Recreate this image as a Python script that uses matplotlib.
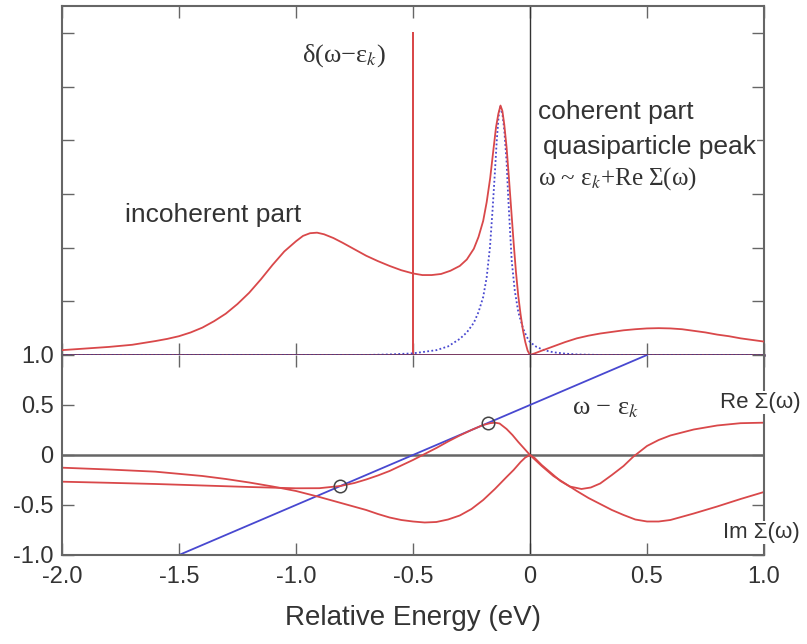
import matplotlib
matplotlib.use("Agg")
import matplotlib.pyplot as plt

plt.rcParams['font.family'] = ['Liberation Sans', 'DejaVu Sans']
plt.rcParams['mathtext.fontset'] = 'stix'

# spectral function A(k, w) (red) and bare quasiparticle peak (blue dotted)
spec_x = [-2.0, -1.9, -1.8, -1.7, -1.6, -1.55, -1.5, -1.45, -1.4, -1.35, -1.3, -1.25, -1.2,
          -1.15, -1.1, -1.05, -1.0, -0.97, -0.94, -0.91, -0.88, -0.84, -0.8, -0.75, -0.7,
          -0.65, -0.6, -0.55, -0.5, -0.46, -0.42, -0.38, -0.34, -0.3, -0.27, -0.24, -0.22,
          -0.2, -0.185, -0.17, -0.157, -0.145, -0.135, -0.126, -0.118, -0.11, -0.1, -0.09,
          -0.08, -0.07, -0.06, -0.05, -0.04, -0.03, -0.02, -0.01, 0.0, 0.02, 0.05, 0.1,
          0.15, 0.2, 0.25, 0.3, 0.35, 0.4, 0.45, 0.5, 0.55, 0.6, 0.65, 0.7, 0.75, 0.8,
          0.85, 0.9, 0.95, 1.0]
spec_y = [0.09, 0.12, 0.15, 0.19, 0.26, 0.3, 0.35, 0.42, 0.51, 0.63, 0.77, 0.95, 1.16,
          1.41, 1.68, 1.93, 2.12, 2.22, 2.27, 2.28, 2.25, 2.18, 2.09, 1.97, 1.85,
          1.75, 1.66, 1.58, 1.52, 1.49, 1.49, 1.51, 1.57, 1.66, 1.78, 1.98, 2.2,
          2.5, 2.85, 3.3, 3.8, 4.25, 4.5, 4.65, 4.55, 4.3, 3.87, 3.3,
          2.7, 2.1, 1.55, 1.1, 0.75, 0.46, 0.24, 0.08, 0.0, 0.03, 0.08, 0.16,
          0.24, 0.31, 0.36, 0.40, 0.43, 0.46, 0.48, 0.495, 0.50, 0.495, 0.48, 0.45, 0.42, 0.38,
          0.35, 0.31, 0.28, 0.25]
qp_x = [-2.0, -0.7, -0.6, -0.5, -0.45, -0.4, -0.35, -0.3, -0.27, -0.24, -0.22, -0.2,
        -0.185, -0.171, -0.16, -0.15, -0.142, -0.134, -0.126, -0.118, -0.11, -0.1, -0.093,
        -0.085, -0.078, -0.065, -0.05, -0.03, -0.014, 0.0, 0.028, 0.06, 0.1, 0.15, 0.2,
        0.3, 1.0]
qp_y = [0.0, 0.0, 0.01, 0.03, 0.06, 0.09, 0.16, 0.3, 0.42, 0.6, 0.8, 1.08,
        1.45, 2.01, 2.7, 3.4, 4.0, 4.45, 4.65, 4.5, 4.2, 3.6, 2.94,
        2.3, 1.75, 1.2, 0.8, 0.5, 0.34, 0.24, 0.15, 0.09, 0.05, 0.025, 0.01,
        0.0, 0.0]
delta_x = [-2.0, -0.5, -0.5, -0.5, 1.0]
delta_y = [0.0, 0.0, 6.0, 0.0, 0.0]

# self energy curves (lower panel)
sig1_x = [-2.0, -1.8, -1.6, -1.4, -1.3, -1.2, -1.1, -1.0, -0.9, -0.8, -0.7, -0.65, -0.6,
          -0.55, -0.5, -0.45, -0.4, -0.35, -0.3, -0.25, -0.2, -0.15, -0.1, -0.07, -0.04,
          -0.02, 0.0, 0.02, 0.05, 0.085, 0.13, 0.17, 0.22, 0.26, 0.3, 0.35, 0.4, 0.44, 0.5,
          0.55, 0.6, 0.7, 0.8, 0.9, 1.0]
sig1_y = [-0.127, -0.145, -0.167, -0.21, -0.24, -0.275, -0.315, -0.36, -0.42, -0.485, -0.55,
          -0.59, -0.625, -0.65, -0.665, -0.675, -0.67, -0.645, -0.605, -0.54, -0.45, -0.34,
          -0.22, -0.15, -0.07, -0.025, 0.0, -0.03, -0.1, -0.17, -0.26, -0.315, -0.34, -0.325,
          -0.285, -0.2, -0.11, -0.02, 0.09, 0.15, 0.195, 0.255, 0.295, 0.318, 0.323]
sig2_x = [-2.0, -1.8, -1.6, -1.4, -1.2, -1.0, -0.9, -0.81, -0.75, -0.7, -0.65, -0.6, -0.55,
          -0.5, -0.45, -0.4, -0.35, -0.3, -0.25, -0.2, -0.17, -0.15, -0.13, -0.1, -0.075,
          -0.05, -0.025, 0.0, 0.025, 0.05, 0.1, 0.15, 0.2, 0.25, 0.3, 0.35, 0.4, 0.45, 0.5,
          0.55, 0.6, 0.7, 0.8, 0.9, 1.0]
sig2_y = [-0.267, -0.278, -0.29, -0.305, -0.32, -0.333, -0.332, -0.31, -0.28, -0.245, -0.205,
          -0.16, -0.105, -0.05, 0.01, 0.07, 0.135, 0.195, 0.25, 0.3, 0.318, 0.323, 0.315,
          0.26, 0.2, 0.13, 0.065, 0.0, -0.055, -0.11, -0.21, -0.285, -0.36, -0.43, -0.49,
          -0.55, -0.6, -0.645, -0.665, -0.665, -0.65, -0.585, -0.515, -0.44, -0.37]
line_x = [-1.5, 0.5]
line_y = [-1.0, 1.0]
circ_x = [-0.81, -0.18]
circ_y = [-0.31, 0.32]

xticks = [-2.0, -1.5, -1.0, -0.5, 0.0, 0.5, 1.0]
xticklabels = ['-2.0', '-1.5', '-1.0', '-0.5', '0', '0.5', '1.0']
yticks_low = [-1.0, -0.5, 0.0, 0.5, 1.0]
yticklabels_low = ['-1.0', '-0.5', '0', '0.5', '1.0']

red = '#d9484a'
blue = '#4848d0'
edge = '#666666'
serif = ['Liberation Serif', 'DejaVu Serif']

fig = plt.figure(figsize=(8.07, 6.44), dpi=100)
ax_top = fig.add_axes([0.0768, 0.4488, 0.8699, 0.5414])
ax_low = fig.add_axes([0.0768, 0.1382, 0.8699, 0.3106])

for ax in (ax_top, ax_low):
    for s in ax.spines.values():
        s.set_color(edge)
        s.set_linewidth(1.5)
    ax.set_xlim(-2.0, 1.0)
    ax.set_xticks(xticks)
    ax.tick_params(direction='in', length=8.5, width=1.0, color=edge,
                   top=True, right=True, labelsize=17, labelcolor='#333333')

# upper panel
ax_top.set_ylim(0, 6.5)
ax_top.set_yticks([0, 1, 2, 3, 4, 5, 6])
ax_top.tick_params(labelbottom=False, labelleft=False)
ax_top.axvline(0.0, color='#333333', lw=1.0)
ax_top.plot(delta_x, delta_y, color=red, lw=1.3, clip_on=False, zorder=3)
ax_top.plot(qp_x, qp_y, color=blue, lw=1.3, ls=(0, (1, 1.3)), clip_on=False, zorder=3)
ax_top.plot(spec_x, spec_y, color=red, lw=1.3, zorder=3)
# baseline drawn over the curves, dark purple like the overlapping red/blue lines
ax_top.spines['bottom'].set_color('#5a3366')
ax_top.spines['bottom'].set_linewidth(1.8)
ax_top.spines['bottom'].set_zorder(4)

ax_top.text(-0.974, 5.58, 'δ(ω−ε$_k$)', family=serif, fontsize=19, color='#333333',
            va='center')
ax_top.text(-1.73, 2.47, 'incoherent part', fontsize=19, color='#333333')
ax_top.text(0.034, 4.40, 'coherent part', fontsize=19, color='#333333')
ax_top.text(0.056, 3.74, 'quasiparticle peak', fontsize=19, color='#333333',
            bbox=dict(fc='white', ec='none', pad=0.5), clip_on=False, zorder=5)
ax_top.text(0.034, 3.18, 'ω ~ ε$_k$+Re Σ(ω)', family=serif, fontsize=18, color='#333333')

# lower panel
ax_low.set_ylim(-1.0, 1.0)
ax_low.set_yticks(yticks_low)
ax_low.set_yticklabels(yticklabels_low)
ax_low.set_xticklabels(xticklabels)
ax_low.spines['top'].set_visible(False)
ax_low.tick_params(axis='x', pad=8)
ax_low.tick_params(axis='y', pad=6)
ax_low.axhline(0.0, color=edge, lw=1.8)
ax_low.axvline(0.0, color='#333333', lw=1.0)
ax_low.plot(line_x, line_y, color=blue, lw=1.3)
ax_low.plot(sig1_x, sig1_y, color=red, lw=1.3)
ax_low.plot(sig2_x, sig2_y, color=red, lw=1.3)
ax_low.plot(circ_x, circ_y, 'o', ms=9, mfc='none', mec='#444444', mew=1.1)

ax_low.text(0.18, 0.41, 'ω − ε$_k$', family=serif, fontsize=19, color='#333333')
ax_low.text(0.812, 0.47, 'Re Σ(ω)', fontsize=16, color='#333333',
            bbox=dict(fc='white', ec='none', pad=0.5), clip_on=False, zorder=5)
ax_low.text(0.825, -0.83, 'Im Σ(ω)', fontsize=16, color='#333333',
            bbox=dict(fc='white', ec='none', pad=0.5), clip_on=False, zorder=5)
ax_low.set_xlabel('Relative Energy (eV)', fontsize=20, color='#333333', labelpad=12)

fig.savefig('out.png', dpi=100)
